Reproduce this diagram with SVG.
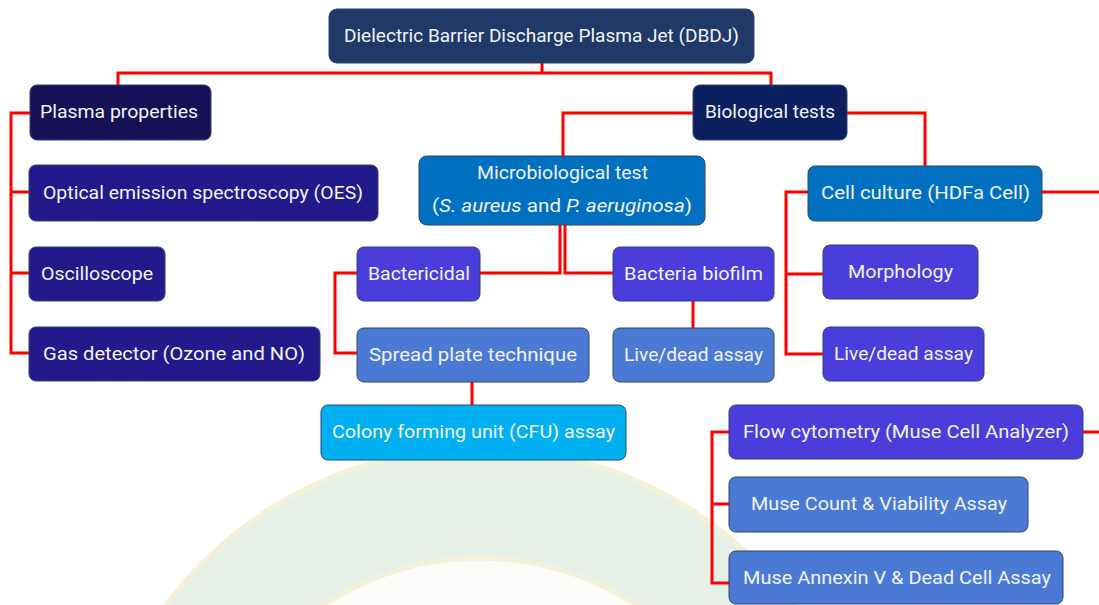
<svg xmlns="http://www.w3.org/2000/svg" width="1099" height="605" viewBox="0 0 1099 605">
<style>
.b{stroke:#2b4670;stroke-width:1}
.t{font-family:Roboto,"Liberation Sans",sans-serif;font-size:19px;fill:#f2f3f7}
.c{fill:none;stroke:#ff0000;stroke-width:3;stroke-linejoin:miter}
</style>
<rect width="1099" height="605" fill="#ffffff"/>
<g id="watermark">
<circle cx="480" cy="840" r="392" fill="#e5f0e7" stroke="#f5f0d8" stroke-width="5"/>
<circle cx="480" cy="840" r="282" fill="#fbfcfa" stroke="#f5f0d8" stroke-width="5"/>
</g>
<g id="connectors">
<path class="c" d="M542,63 V73" stroke-width="5"/>
<path class="c" d="M118,85 V73 H771 V85"/>
<path class="c" d="M30,113 H11 V353 H30 M11,192 H30 M11,273 H30"/>
<path class="c" d="M693,113 H563 V156 M847,113 H925 V166"/>
<path class="c" d="M560,225 V273 H480 M565,225 V273 H613"/>
<path class="c" d="M357,273 H335 V353 H357"/>
<path class="c" d="M693,301 V328"/>
<path class="c" d="M472,382 V405"/>
<path class="c" d="M808,192 H786 V354 H823 M786,274 H823 M1042,192 H1099"/>
<path class="c" d="M729,432 H712 V583 H729 M712,504 H729 M1083,432 H1099"/>
</g>
<g id="root"><rect class="b" x="329" y="9" width="425" height="54" rx="8" fill="#1f3968"/><text class="t" x="344" y="42" textLength="395" lengthAdjust="spacingAndGlyphs">Dielectric Barrier Discharge Plasma Jet (DBDJ)</text></g>
<g id="plasma"><rect class="b" x="30" y="85" width="181" height="55" rx="7" fill="#161156"/><text class="t" x="40" y="118" textLength="158" lengthAdjust="spacingAndGlyphs">Plasma properties</text></g>
<g id="oes"><rect class="b" x="29" y="165" width="349" height="56" rx="7" fill="#22198a"/><text class="t" x="43" y="199" textLength="320" lengthAdjust="spacingAndGlyphs">Optical emission spectroscopy (OES)</text></g>
<g id="osc"><rect class="b" x="29" y="247" width="136" height="54" rx="7" fill="#22198a"/><text class="t" x="41" y="280" textLength="112" lengthAdjust="spacingAndGlyphs">Oscilloscope</text></g>
<g id="gas"><rect class="b" x="29" y="327" width="291" height="54" rx="7" fill="#22198a"/><text class="t" x="43" y="360" textLength="262" lengthAdjust="spacingAndGlyphs">Gas detector (Ozone and NO)</text></g>
<g id="bio"><rect class="b" x="693" y="85" width="154" height="55" rx="7" fill="#0c1f5e"/><text class="t" x="705" y="118" textLength="130" lengthAdjust="spacingAndGlyphs">Biological tests</text></g>
<g id="micro"><rect class="b" x="419" y="156" width="286" height="69" rx="8" fill="#0070c0"/><text class="t" x="477" y="179" textLength="171" lengthAdjust="spacingAndGlyphs">Microbiological test</text><text class="t" x="432" y="212" textLength="260" lengthAdjust="spacingAndGlyphs">(<tspan font-style="italic">S. aureus</tspan> and <tspan font-style="italic">P. aeruginosa</tspan>)</text></g>
<g id="bactericidal"><rect class="b" x="357" y="247" width="123" height="54" rx="7" fill="#4a3ddb"/><text class="t" x="368" y="280" textLength="102" lengthAdjust="spacingAndGlyphs">Bactericidal</text></g>
<g id="biofilm"><rect class="b" x="613" y="247" width="161" height="54" rx="7" fill="#4a3ddb"/><text class="t" x="624" y="280" textLength="139" lengthAdjust="spacingAndGlyphs">Bacteria biofilm</text></g>
<g id="spread"><rect class="b" x="357" y="328" width="232" height="54" rx="7" fill="#4a7ad4"/><text class="t" x="369" y="361" textLength="208" lengthAdjust="spacingAndGlyphs">Spread plate technique</text></g>
<g id="livedead1"><rect class="b" x="613" y="328" width="161" height="54" rx="7" fill="#4a7ad4"/><text class="t" x="624" y="361" textLength="139" lengthAdjust="spacingAndGlyphs">Live/dead assay</text></g>
<g id="cfu"><rect class="b" x="321" y="405" width="305" height="55" rx="7" fill="#00b0f0"/><text class="t" x="332" y="438" textLength="283" lengthAdjust="spacingAndGlyphs">Colony forming unit (CFU) assay</text></g>
<g id="cell"><rect class="b" x="808" y="166" width="234" height="55" rx="7" fill="#0070c0"/><text class="t" x="821" y="199" textLength="209" lengthAdjust="spacingAndGlyphs">Cell culture (HDFa Cell)</text></g>
<g id="morph"><rect class="b" x="823" y="245" width="155" height="54" rx="7" fill="#4a3ddb"/><text class="t" x="848" y="278" textLength="105" lengthAdjust="spacingAndGlyphs">Morphology</text></g>
<g id="livedead2"><rect class="b" x="823" y="327" width="161" height="54" rx="7" fill="#4a3ddb"/><text class="t" x="834" y="360" textLength="139" lengthAdjust="spacingAndGlyphs">Live/dead assay</text></g>
<g id="flow"><rect class="b" x="729" y="405" width="354" height="54" rx="7" fill="#4a3ddb"/><text class="t" x="743" y="438" textLength="326" lengthAdjust="spacingAndGlyphs">Flow cytometry (Muse Cell Analyzer)</text></g>
<g id="musecount"><rect class="b" x="729" y="477" width="299" height="55" rx="7" fill="#4a7ad4"/><text class="t" x="751" y="510" textLength="256" lengthAdjust="spacingAndGlyphs">Muse Count &amp; Viability Assay</text></g>
<g id="museannexin"><rect class="b" x="729" y="551" width="334" height="53" rx="7" fill="#4a7ad4"/><text class="t" x="743" y="584" textLength="308" lengthAdjust="spacingAndGlyphs">Muse Annexin V &amp; Dead Cell Assay</text></g>
</svg>
